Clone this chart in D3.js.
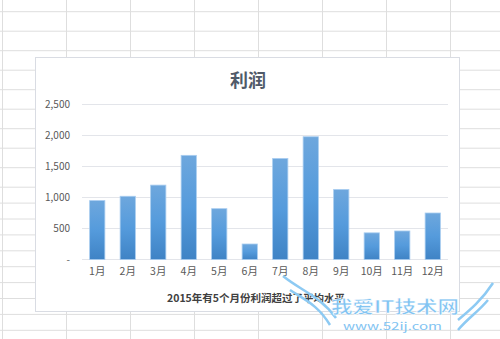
<!DOCTYPE html>
<html>
<head>
<meta charset="utf-8">
<script src="https://cdn.jsdelivr.net/npm/d3@7"></script>
<style>
  body { margin: 0; background: #fff; }
  svg { display: block; }
</style>
</head>
<body>
<svg width="500" height="339"></svg>
<script>
const width = 500;
const height = 339;

// data
const months = ["1月", "2月", "3月", "4月", "5月", "6月", "7月", "8月", "9月", "10月", "11月", "12月"];
const profit = [950, 1020, 1200, 1680, 820, 250, 1630, 1980, 1130, 430, 460, 750];
const yTicks = [0, 500, 1000, 1500, 2000, 2500];
const title = "利润";
const note = "2015年有5个月份利润超过了平均水平";

const svg = d3.select("svg");
const font = "'Noto Sans CJK SC', 'Noto Sans', sans-serif";

//--------------------spreadsheet grid behind the chart--------------------
const grid = svg.append("g");
let y = 11.7;
while (y < height) {
    grid.append("line")
        .attr("x1", 0).attr("x2", width)
        .attr("y1", y).attr("y2", y)
        .attr("stroke", "#dedede").attr("stroke-width", 1);
    y += (y < 180) ? 19.5 : 15.9;
}
for (let x = 2.5; x < width; x += 64) {
    grid.append("line")
        .attr("x1", x).attr("x2", x)
        .attr("y1", 0).attr("y2", height)
        .attr("stroke", "#dedede").attr("stroke-width", 1);
}

//--------------------chart area--------------------
svg.append("rect")
    .attr("x", 35.5).attr("y", 57.5)
    .attr("width", 424).attr("height", 254)
    .attr("fill", "#fff")
    .attr("stroke", "#d9dce3").attr("stroke-width", 1);

svg.append("text")
    .attr("x", 248).attr("y", 87)
    .attr("text-anchor", "middle")
    .attr("font-family", font)
    .attr("font-size", 18)
    .attr("font-weight", "bold")
    .attr("fill", "#505a68")
    .text(title);

const scaleX = d3.scaleBand()
    .domain(months)
    .range([82, 448])
    .paddingInner(0.5)
    .paddingOuter(0.25);

const scaleY = d3.scaleLinear()
    .domain([0, 2500])
    .range([259.5, 104.5]);

// gridlines
svg.append("g")
    .selectAll("line")
    .data(yTicks)
    .enter()
    .append("line")
    .attr("x1", 82).attr("x2", 448)
    .attr("y1", d => scaleY(d)).attr("y2", d => scaleY(d))
    .attr("stroke", "#e3e5ea").attr("stroke-width", 1);

// y axis labels
const yAxis = d3.axisLeft(scaleY)
    .tickValues(yTicks)
    .tickSize(0)
    .tickPadding(0)
    .tickFormat(d => d === 0 ? "-     " : d3.format(",")(d));

const gy = svg.append("g")
    .attr("transform", "translate(70,0)")
    .call(yAxis);
gy.select(".domain").remove();
gy.selectAll("text")
    .attr("font-family", font)
    .attr("font-size", 10)
    .attr("fill", "#595959");

// x axis labels
const xAxis = d3.axisBottom(scaleX).tickSize(0).tickPadding(0);
const gx = svg.append("g")
    .attr("transform", "translate(0,268)")
    .call(xAxis);
gx.select(".domain").remove();
gx.selectAll("text")
    .attr("font-family", font)
    .attr("font-size", 10.5)
    .attr("fill", "#595959");

// bar gradient
const grad = svg.append("defs").append("linearGradient")
    .attr("id", "barGrad")
    .attr("x1", 0).attr("y1", 0).attr("x2", 0).attr("y2", 1);
grad.append("stop").attr("offset", "0%").attr("stop-color", "#6ea7dd");
grad.append("stop").attr("offset", "50%").attr("stop-color", "#559bdc");
grad.append("stop").attr("offset", "100%").attr("stop-color", "#3f83c5");

svg.selectAll("rect.bar")
    .data(profit)
    .enter()
    .append("rect")
    .attr("class", "bar")
    .attr("x", (d, i) => scaleX(months[i]))
    .attr("y", d => scaleY(d))
    .attr("width", scaleX.bandwidth())
    .attr("height", d => scaleY(0) - scaleY(d))
    .attr("fill", "url(#barGrad)")
    .attr("stroke", "#a9cdf0")
    .attr("stroke-width", 0.8);

// note under the chart
svg.append("text")
    .attr("x", 256).attr("y", 302)
    .attr("text-anchor", "middle")
    .attr("font-family", font)
    .attr("font-size", 10.5)
    .attr("font-weight", "bold")
    .attr("fill", "#404040")
    .text(note);

//--------------------watermark--------------------
const wm = svg.append("g").attr("fill", "none").attr("stroke", "#8dcaf3").attr("stroke-width", 2.5);
wm.append("path").attr("d", "M283,276 C300,290 320,296 336,318");
wm.append("path").attr("d", "M290,290 C305,300 318,305 330,325");
wm.append("path").attr("d", "M493,283 C482,300 470,310 458,320");
wm.append("path").attr("d", "M488,300 C478,312 468,318 458,330");

svg.append("text")
    .attr("x", 331).attr("y", 313)
    .attr("textLength", 128)
    .attr("lengthAdjust", "spacingAndGlyphs")
    .attr("font-family", font)
    .attr("font-size", 17)
    .attr("font-weight", "bold")
    .attr("fill", "#82c4f2")
    .attr("stroke", "#fff")
    .attr("stroke-width", 0.5)
    .text("我爱IT技术网");

svg.append("text")
    .attr("x", 343).attr("y", 330)
    .attr("textLength", 99)
    .attr("lengthAdjust", "spacingAndGlyphs")
    .attr("font-family", font)
    .attr("font-size", 10)
    .attr("fill", "#82c4f2")
    .text("www.52ij.com");
</script>
</body>
</html>
